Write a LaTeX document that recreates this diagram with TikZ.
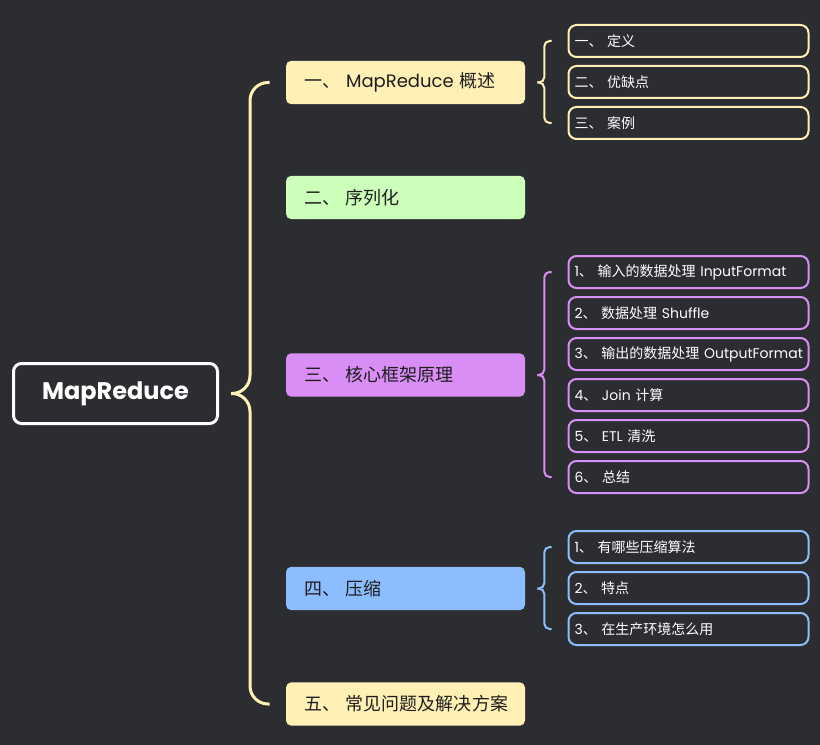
\documentclass[tikz,border=0pt]{standalone}
\usepackage{fontspec}
\setmainfont{Poppins}
\newfontfamily\zhfont{Noto Sans CJK SC}
\newcommand{\zh}[1]{{\zhfont #1}}
\usepackage{xcolor}
\definecolor{bg-dark}{HTML}{2C2D31}
\definecolor{pale-cream}{HTML}{FFF0B5}
\definecolor{pale-green}{HTML}{CCFFBA}
\definecolor{pale-purple}{HTML}{D98EF5}
\definecolor{pale-blue}{HTML}{8CBEFF}
\definecolor{ink}{HTML}{1E1E1E}
\usetikzlibrary{positioning}
\usetikzlibrary{calc}
\tikzset{root/.style = {draw=white, line width=2.25pt, rounded corners=6pt, minimum width=153pt, minimum height=45pt, text=white, font=\fontsize{18}{20}\selectfont\bfseries}}
\tikzset{topic/.style = {rounded corners=4pt, text width=152.25pt, inner xsep=13.5pt, minimum height=32.6pt, align=left, text=ink, font=\fontsize{13.5}{15}\selectfont}}
\tikzset{leaf/.style = {draw, line width=1.5pt, rounded corners=6pt, fill=bg-dark, text width=171pt, inner xsep=4.5pt, minimum height=24pt, align=left, text=white, font=\fontsize{10.5}{12}\selectfont}}
\tikzset{brace/.style = {line width=1.5pt, rounded corners=4pt}}
\tikzset{mainbrace/.style = {line width=2.25pt, rounded corners=13.5pt, draw=pale-cream}}

\begin{document}
\begin{tikzpicture}[x=0.75pt, y=-0.75pt,
  node distance = 5.25pt
]
\fill[bg-dark] (0,0) rectangle (820,745);
\useasboundingbox (0,0) rectangle (820,745);

\node[root] (mr) at (115.5,393.5) {MapReduce};

\node[topic, fill=pale-cream] (t1) at (405.5,82.5) {\zh{一、} MapReduce \zh{概述}};
\node[topic, fill=pale-green] (t2) at (405.5,197.5) {\zh{二、 序列化}};
\node[topic, fill=pale-purple] (t3) at (405.5,375) {\zh{三、 核心框架原理}};
\node[topic, fill=pale-blue] (t4) at (405.5,588.5) {\zh{四、 压缩}};
\node[topic, fill=pale-cream] (t5) at (405.5,704) {\mbox{\zh{五、 常见问题及解决方案}}};

% leaves of t1
\node[leaf, draw=pale-cream] (t1a) at (688.5,41) {\zh{一、} \zh{定义}};
\node[leaf, draw=pale-cream, below=of t1a] (t1b) {\zh{二、} \zh{优缺点}};
\node[leaf, draw=pale-cream, below=of t1b] (t1c) {\zh{三、} \zh{案例}};

% leaves of t3
\node[leaf, draw=pale-purple] (t3a) at (688.5,272) {\mbox{1\zh{、} \zh{输入的数据处理} InputFormat}};
\node[leaf, draw=pale-purple, below=of t3a] (t3b) {2\zh{、} \zh{数据处理} Shuffle};
\node[leaf, draw=pale-purple, below=of t3b] (t3c) {\mbox{3\zh{、} \zh{输出的数据处理} OutputFormat}};
\node[leaf, draw=pale-purple, below=of t3c] (t3d) {4\zh{、} Join \zh{计算}};
\node[leaf, draw=pale-purple, below=of t3d] (t3e) {5\zh{、} ETL \zh{清洗}};
\node[leaf, draw=pale-purple, below=of t3e] (t3f) {6\zh{、} \zh{总结}};

% leaves of t4
\node[leaf, draw=pale-blue] (t4a) at (688.5,547) {1\zh{、} \zh{有哪些压缩算法}};
\node[leaf, draw=pale-blue, below=of t4a] (t4b) {2\zh{、} \zh{特点}};
\node[leaf, draw=pale-blue, below=of t4b] (t4c) {3\zh{、} \zh{在生产环境怎么用}};

% braces
\coordinate (mrtip) at ($(mr.east)+(12,0)$);
\draw[mainbrace] ($(t1.west)+(-16,0)$) -| ($(mrtip)+(19,0)$) -- (mrtip);
\draw[mainbrace] ($(t5.west)+(-16,0)$) -| ($(mrtip)+(19,0)$) -- (mrtip);

\coordinate (t1tip) at ($(t1.east)+(12,0)$);
\draw[brace, draw=pale-cream] ($(t1a.west)+(-16,0)$) -| ($(t1tip)+(7,0)$) -- (t1tip);
\draw[brace, draw=pale-cream] ($(t1c.west)+(-16,0)$) -| ($(t1tip)+(7,0)$) -- (t1tip);

\coordinate (t3tip) at ($(t3.east)+(12,0)$);
\draw[brace, draw=pale-purple] ($(t3a.west)+(-16,0)$) -| ($(t3tip)+(7,0)$) -- (t3tip);
\draw[brace, draw=pale-purple] ($(t3f.west)+(-16,0)$) -| ($(t3tip)+(7,0)$) -- (t3tip);

\coordinate (t4tip) at ($(t4.east)+(12,0)$);
\draw[brace, draw=pale-blue] ($(t4a.west)+(-16,0)$) -| ($(t4tip)+(7,0)$) -- (t4tip);
\draw[brace, draw=pale-blue] ($(t4c.west)+(-16,0)$) -| ($(t4tip)+(7,0)$) -- (t4tip);

\end{tikzpicture}
\end{document}
